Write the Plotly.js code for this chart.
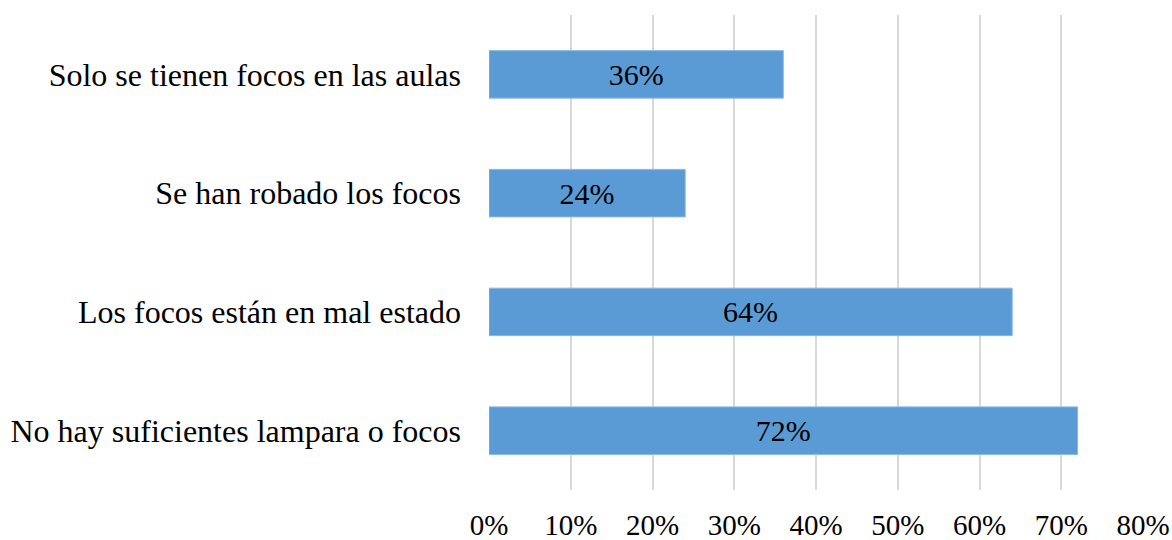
<!DOCTYPE html>
<html>
<head>
<meta charset="utf-8">
<script src="https://cdn.plot.ly/plotly-3.0.1.min.js"></script>
<style>html,body{margin:0;padding:0;background:#fff;}#chart{width:1172px;height:540px;}</style>
</head>
<body>
<div id="chart"></div>
<script>
const categories = [
  "No hay suficientes lampara o focos",
  "Los focos están en mal estado",
  "Se han robado los focos",
  "Solo se tienen focos en las aulas"
];
const values = [0.72, 0.64, 0.24, 0.36];
const labels = ["72%", "64%", "24%", "36%"];
const tickVals = [0, 0.1, 0.2, 0.3, 0.4, 0.5, 0.6, 0.7, 0.8];
const tickText = ["0%", "10%", "20%", "30%", "40%", "50%", "60%", "70%", "80%"];

const font = "Times New Roman, Liberation Serif, Tinos, DejaVu Serif, serif";

Plotly.newPlot("chart", [{
  type: "bar",
  orientation: "h",
  y: categories,
  x: values,
  text: labels,
  textposition: "inside",
  insidetextanchor: "middle",
  textangle: 0,
  constraintext: "none",
  insidetextfont: {family: font, size: 30, color: "#000"},
  marker: {color: "#5b9bd5", line: {color: "#8ab6e2", width: 1}},
  hoverinfo: "none"
}], {
  width: 1172,
  height: 540,
  margin: {l: 489, r: 29, t: 15, b: 50},
  paper_bgcolor: "#fff",
  plot_bgcolor: "#fff",
  showlegend: false,
  bargap: 0.6,
  font: {family: font, size: 29, color: "#000"},
  xaxis: {
    range: [0, 0.8],
    tickvals: tickVals,
    ticktext: tickText,
    showgrid: true,
    gridcolor: "#d9d9d9",
    gridwidth: 2,
    zeroline: false,
    showline: false,
    ticks: "",
    ticklabelstandoff: 15,
    tickfont: {family: font, size: 29, color: "#000"}
  },
  yaxis: {
    type: "category",
    showgrid: false,
    zeroline: false,
    showline: false,
    ticks: "",
    ticklabelstandoff: 27,
    tickfont: {family: font, size: 32, color: "#000"}
  }
}, {staticPlot: true});
</script>
</body>
</html>
